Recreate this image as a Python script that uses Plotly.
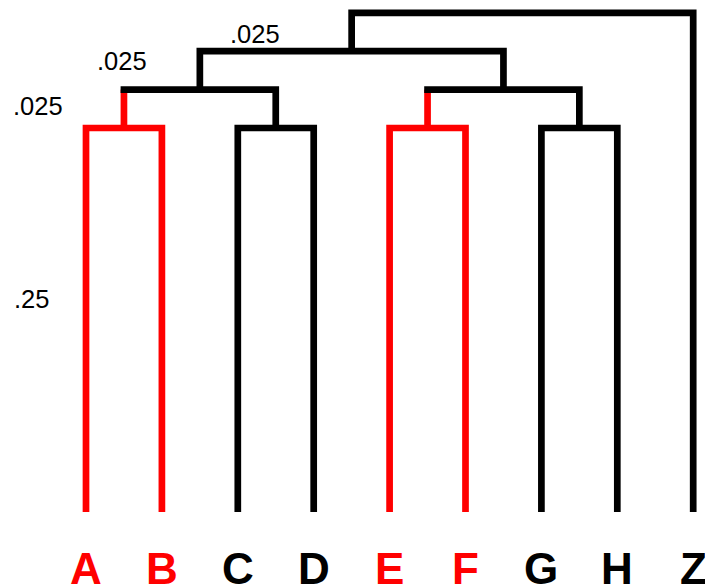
import plotly.graph_objects as go

# ---- data ----
leaves = ["A", "B", "C", "D", "E", "F", "G", "H", "Z"]
leaf_colors = ["red", "red", "black", "black", "red", "red", "black", "black", "black"]

# merges: (left cluster, right cluster, new cluster name, height, color)
merge_left = ["A", "C", "E", "G", "AB", "EF", "ABCD", "ABCDEFGH"]
merge_right = ["B", "D", "F", "H", "CD", "GH", "EFGH", "Z"]
merge_name = ["AB", "CD", "EF", "GH", "ABCD", "EFGH", "ABCDEFGH", "ALL"]
merge_height = [0.25, 0.25, 0.25, 0.25, 0.275, 0.275, 0.30, 0.325]
merge_color = ["red", "black", "red", "black", "black", "black", "black", "black"]

# branch length labels: text, x (leaf units), y (height units)
branch_text = [".25", ".025", ".025", ".025"]
branch_x = [-0.718, -0.626, 0.470, 2.227]
branch_y = [0.1387, 0.2643, 0.2936, 0.3112]

# ---- style ----
LW = 6.7
PX_PER_UNIT = 1536.0
EPS = (LW / 2) / PX_PER_UNIT

pos = {}
hgt = {}
col = {}
for i, (lf, c) in enumerate(zip(leaves, leaf_colors)):
    pos[lf] = i
    hgt[lf] = 0.0
    col[lf] = c

fig = go.Figure()


def add_line(xs, ys, color):
    fig.add_trace(go.Scatter(x=xs, y=ys, mode="lines",
                             line=dict(color=color, width=LW),
                             hoverinfo="skip", showlegend=False))


for l, r, n, h, c in zip(merge_left, merge_right, merge_name, merge_height, merge_color):
    xl, xr = pos[l], pos[r]
    hl, hr = hgt[l], hgt[r]
    xs, ys = [], []
    if col[l] != c:
        add_line([xl, xl], [hl, h], col[l])
        xs += [xl, xl]
        ys += [h - EPS, h]
    else:
        xs += [xl, xl]
        ys += [hl, h]
    if col[r] != c:
        add_line([xr, xr], [hr, h], col[r])
        xs += [xr, xr]
        ys += [h, h - EPS]
    else:
        xs += [xr, xr]
        ys += [h, hr]
    add_line(xs, ys, c)
    pos[n] = (xl + xr) / 2
    hgt[n] = h
    col[n] = c

annotations = []
for i, (lf, c) in enumerate(zip(leaves, leaf_colors)):
    annotations.append(dict(x=i, y=-0.0371, text="<b>" + lf + "</b>", showarrow=False,
                            xanchor="center", yanchor="middle",
                            font=dict(family="Liberation Sans Narrow, Arial Narrow, Liberation Sans, Arial",
                                      size=44, color=c)))
for t, x, y in zip(branch_text, branch_x, branch_y):
    annotations.append(dict(x=x, y=y, text=t, showarrow=False,
                            xanchor="center", yanchor="middle",
                            font=dict(family="Liberation Sans, Arial", size=25.5, color="black")))

fig.update_layout(
    width=705, height=586,
    margin=dict(l=0, r=0, t=0, b=0),
    paper_bgcolor="white", plot_bgcolor="white",
    xaxis=dict(range=[-86 / 75.9, (705 - 86) / 75.9], visible=False, fixedrange=True),
    yaxis=dict(range=[-74 / PX_PER_UNIT, 512 / PX_PER_UNIT], visible=False, fixedrange=True),
    annotations=annotations,
)

fig.write_html("out.html", config={"displayModeBar": False},
               post_script="document.body.style.margin='0';document.body.style.overflow='hidden';")
